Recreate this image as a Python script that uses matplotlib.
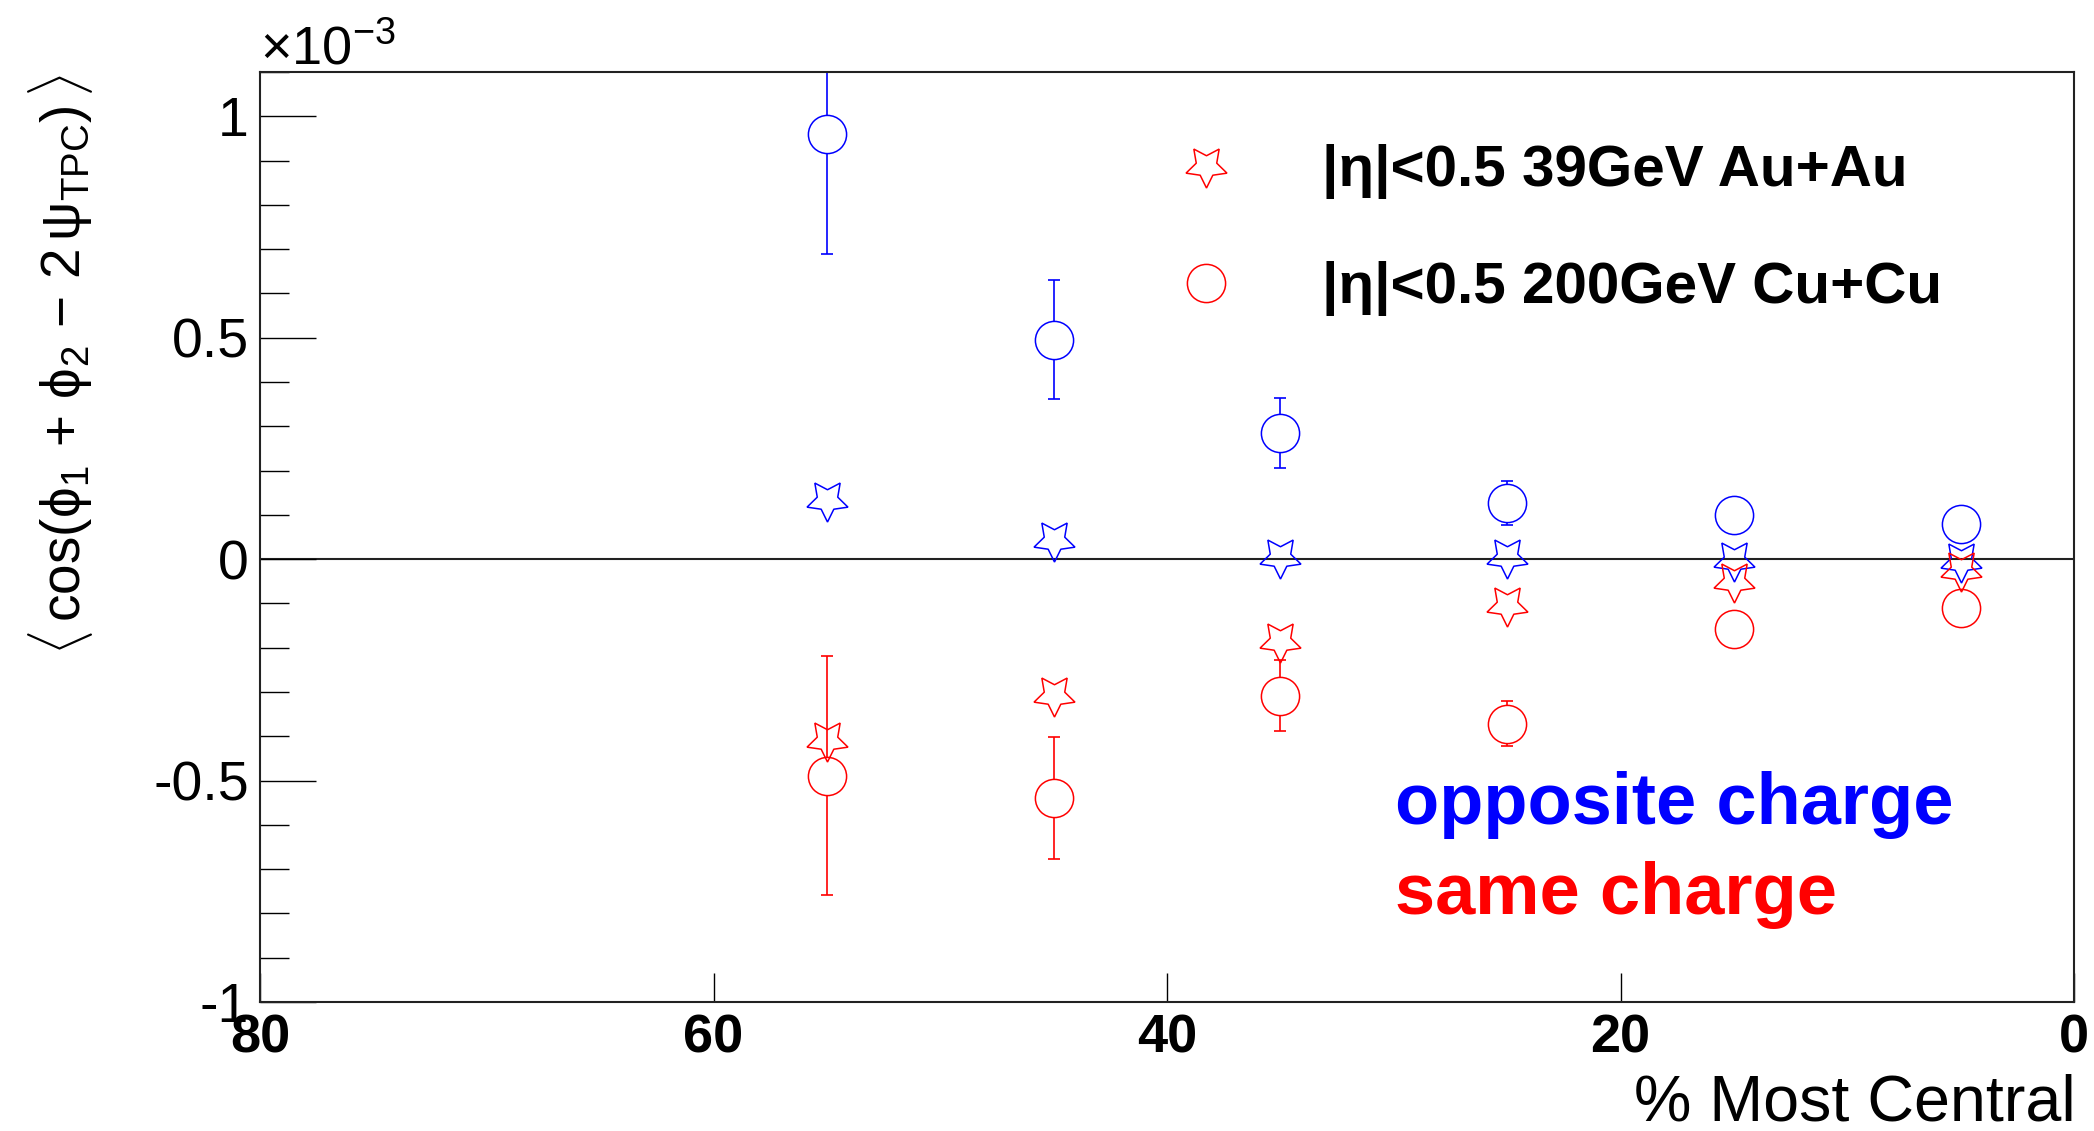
import matplotlib
matplotlib.use("Agg")
import matplotlib.pyplot as plt
from matplotlib.ticker import MultipleLocator, FixedLocator

plt.rcParams['font.family'] = ['Liberation Sans', 'DejaVu Sans']
plt.rcParams['mathtext.fontset'] = 'custom'
plt.rcParams['mathtext.rm'] = 'Liberation Sans'
plt.rcParams['mathtext.it'] = 'Liberation Sans:italic'
plt.rcParams['mathtext.bf'] = 'Liberation Sans:bold'
plt.rcParams['axes.unicode_minus'] = False

# ---- data (values in units of 1e-3) ----
centrality = [55, 45, 35, 25, 15, 5]

# 39 GeV Au+Au (stars)
auau_opposite = [0.134, 0.044, 0.004, 0.006, -0.001, -0.005]
auau_same = [-0.408, -0.306, -0.184, -0.103, -0.050, -0.024]

# 200 GeV Cu+Cu (circles)
cucu_opposite = [0.960, 0.496, 0.285, 0.127, 0.100, 0.079]
cucu_opposite_err = [0.27, 0.134, 0.080, 0.050, 0.030, 0.030]
cucu_same = [-0.489, -0.539, -0.308, -0.371, -0.158, -0.111]
cucu_same_err = [0.27, 0.137, 0.080, 0.050, 0.030, 0.030]

x_ticks = [80, 60, 40, 20, 0]
y_ticks = [-1, -0.5, 0, 0.5, 1]
y_ticklabels = ['-1', '-0.5', '0', '0.5', '1']
legend_labels = ['|η|<0.5 39GeV Au+Au', '|η|<0.5 200GeV Cu+Cu']

BLUE = '#0000ff'
RED = '#ff0000'
STAR = (5, 1, 180)
STAR_MS = 31
CIRC_MS = 27.5
MEW = 1.1

fig = plt.figure(figsize=(20.94, 11.31), dpi=100)
ax = fig.add_axes([0.1242, 0.114, 0.8663, 0.8223])

ax.set_xlim(80, 0)
ax.set_ylim(-1.0, 1.1)

ax.axhline(0, color='#222222', lw=1.5, zorder=1)

# error bars for circles
for vals, errs, col in [(cucu_opposite, cucu_opposite_err, BLUE),
                        (cucu_same, cucu_same_err, RED)]:
    ax.errorbar(centrality, vals, yerr=errs, fmt='none', ecolor=col,
                elinewidth=1.2, capsize=4.5, capthick=1.2, zorder=2)
    # white interior so bars do not cross the marker
    ax.plot(centrality, vals, ls='none', marker='o', ms=CIRC_MS,
            mfc='white', mec='none', zorder=3)

# hollow markers
ax.plot(centrality, auau_opposite, ls='none', marker=STAR, ms=STAR_MS,
        mfc='none', mec=BLUE, mew=MEW, zorder=4)
ax.plot(centrality, cucu_opposite, ls='none', marker='o', ms=CIRC_MS,
        mfc='none', mec=BLUE, mew=MEW, zorder=4)
h_star, = ax.plot(centrality, auau_same, ls='none', marker=STAR, ms=STAR_MS,
                  mfc='none', mec=RED, mew=MEW, zorder=4)
h_circ, = ax.plot(centrality, cucu_same, ls='none', marker='o', ms=CIRC_MS,
                  mfc='none', mec=RED, mew=MEW, zorder=4)

# axes styling (ROOT-like)
for s in ax.spines.values():
    s.set_color('#222222')
    s.set_linewidth(1.5)

ax.xaxis.set_major_locator(FixedLocator(x_ticks))
ax.set_xticklabels([str(t) for t in x_ticks], fontweight='bold', fontsize=39)
ax.yaxis.set_major_locator(FixedLocator(y_ticks))
ax.set_yticklabels(y_ticklabels, fontsize=40)
ax.yaxis.set_minor_locator(MultipleLocator(0.1))
ax.tick_params(axis='x', which='major', direction='in', length=21, width=1.0,
               pad=8, top=False)
ax.tick_params(axis='y', which='major', direction='in', length=40, width=1.0,
               pad=8, right=False)
ax.tick_params(axis='y', which='minor', direction='in', length=21, width=1.0,
               right=False)

# legend
leg = ax.legend([h_star, h_circ], legend_labels, loc='upper left',
                bbox_to_anchor=(0.548, 0.8727), bbox_transform=fig.transFigure,
                frameon=False, borderpad=0, borderaxespad=0, handlelength=2.0,
                handletextpad=0.99, labelspacing=1.07, numpoints=1,
                prop={'family': 'Liberation Sans', 'weight': 'bold', 'size': 42})

fig.text(0.6662, 0.2714, 'opposite charge', color=BLUE, fontsize=52,
         fontweight='bold', ha='left', va='baseline')
fig.text(0.6662, 0.1919, 'same charge', color=RED, fontsize=52,
         fontweight='bold', ha='left', va='baseline')

fig.text(0.9914, 0.009, '% Most Central', fontsize=46.5, ha='right', va='baseline')

fig.text(0.1242, 0.9434, r'×10$^{\mathrm{-3}}$', fontsize=39, ha='left', va='baseline')

fig.text(0.0287, 0.934,
         r'$\langle\,\mathrm{cos(\phi_{1}\,+\,\phi_{2}\,-\,2\,\psi_{TPC})}\,\rangle$',
         fontsize=39.5, rotation=90, ha='center', va='top')

fig.savefig('out.png', dpi=100)
